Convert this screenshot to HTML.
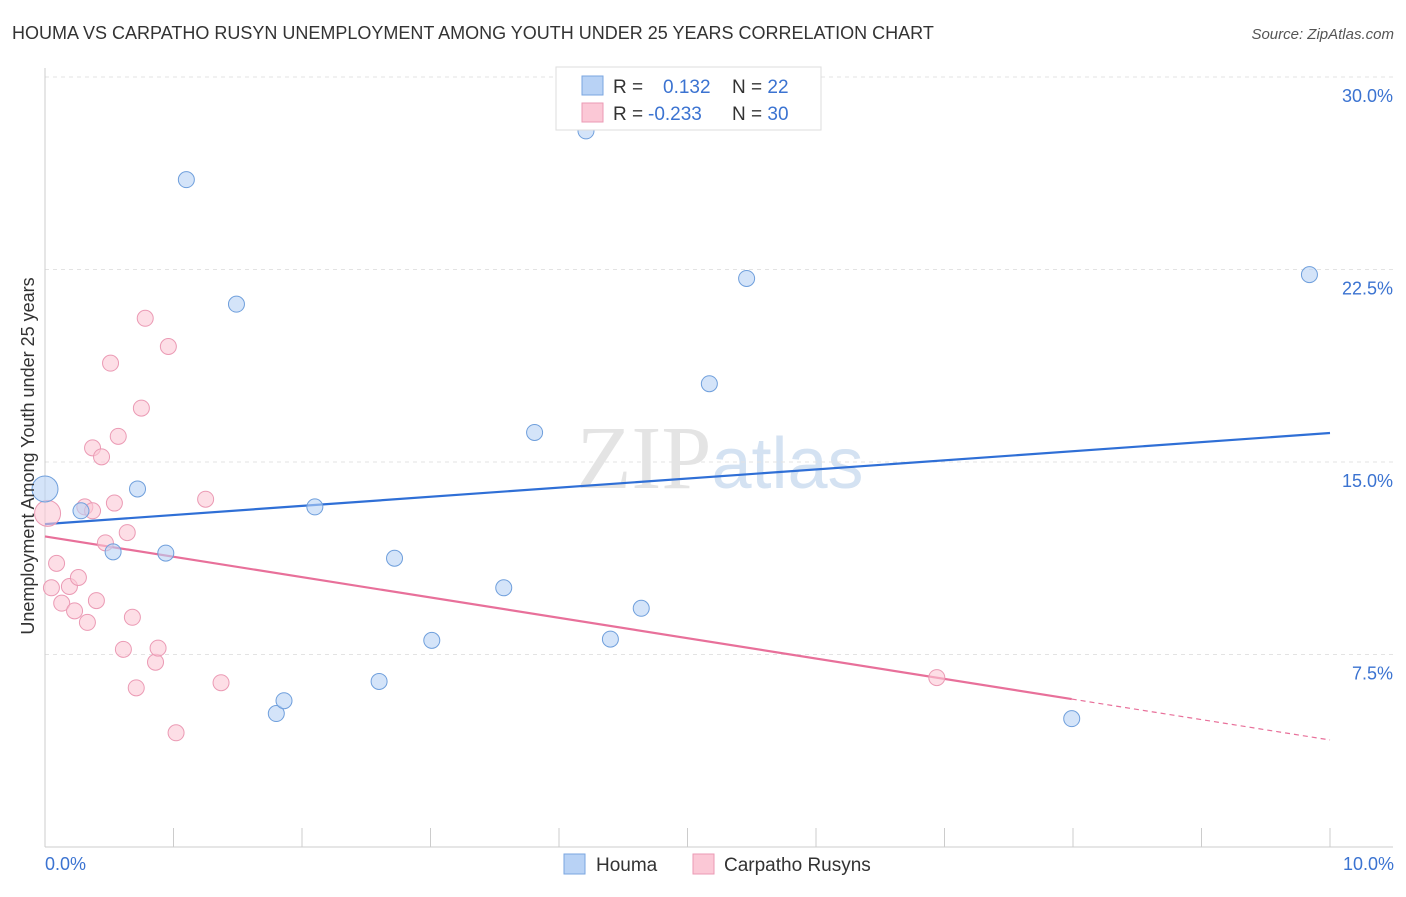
<!DOCTYPE html>
<html><head><meta charset="utf-8"><style>
body{margin:0;background:#fff;font-family:"Liberation Sans",sans-serif;}
</style></head><body>
<svg id="chart" width="1406" height="892" xmlns="http://www.w3.org/2000/svg" font-family="Liberation Sans, sans-serif">
<text x="12" y="39" font-size="18" fill="#333">HOUMA VS CARPATHO RUSYN UNEMPLOYMENT AMONG YOUTH UNDER 25 YEARS CORRELATION CHART</text>
<text x="1394" y="39" font-size="15" fill="#555" text-anchor="end" font-style="italic">Source: ZipAtlas.com</text>
<text x="720" y="488" font-size="90" text-anchor="middle" fill="#e4e4e4" font-family="Liberation Serif, serif">ZIP<tspan fill="#d4e2f2" font-family="Liberation Sans, sans-serif" font-size="72">atlas</tspan></text>
<g id="grid"></g>
<g id="axes"></g>
<g id="lines"></g>
<g id="points"></g>
<text transform="translate(34,456) rotate(-90)" font-size="18" fill="#333" text-anchor="middle">Unemployment Among Youth under 25 years</text>
<text x="45" y="870" font-size="18" fill="#3b73d1">0.0%</text>
<text x="1394" y="870" font-size="18" fill="#3b73d1" text-anchor="end">10.0%</text>
<g>
<rect x="556" y="67" width="265" height="63" fill="#fff" stroke="#ddd"/>
<rect x="582" y="76" width="21" height="19" fill="#b8d2f5" stroke="#7aa6e0"/>
<rect x="582" y="103" width="21" height="19" fill="#fbc8d6" stroke="#eb9ab4"/>
<text x="613" y="93" font-size="19" fill="#333">R = <tspan fill="#3b73d1" x="663">0.132</tspan><tspan x="732">N = </tspan><tspan fill="#3b73d1">22</tspan></text>
<text x="613" y="120" font-size="19" fill="#333">R = <tspan fill="#3b73d1" x="648">-0.233</tspan><tspan x="732">N = </tspan><tspan fill="#3b73d1">30</tspan></text>
</g>
<g>
<rect x="564" y="854" width="21" height="20" fill="#b8d2f5" stroke="#7aa6e0"/>
<text x="596" y="871" font-size="19" fill="#333">Houma</text>
<rect x="693" y="854" width="21" height="20" fill="#fbc8d6" stroke="#eb9ab4"/>
<text x="724" y="871" font-size="19" fill="#333">Carpatho Rusyns</text>
</g>
</svg>
<script>
const yTicks=[7.5,15,22.5,30];
const xTickCount=10;
const houmaX=[0,0.28,0.53,0.72,0.94,1.10,1.49,1.80,1.86,2.10,2.60,2.72,3.01,3.57,3.81,4.21,4.40,4.64,5.17,5.46,7.99,9.84];
const houmaY=[13.95,13.1,11.5,13.95,11.45,26.0,21.15,5.2,5.7,13.25,6.45,11.25,8.05,10.1,16.15,27.9,8.1,9.3,18.05,22.15,5.0,22.3];
const rusynX=[0.02,0.05,0.09,0.13,0.19,0.23,0.26,0.31,0.33,0.37,0.37,0.40,0.44,0.47,0.51,0.54,0.57,0.61,0.64,0.68,0.71,0.75,0.78,0.86,0.88,0.96,1.02,1.25,1.37,6.94];
const rusynY=[13.0,10.1,11.05,9.5,10.15,9.2,10.5,13.25,8.75,13.1,15.55,9.6,15.2,11.85,18.85,13.4,16.0,7.7,12.25,8.95,6.2,17.1,20.6,7.2,7.75,19.5,4.45,13.55,6.4,6.6];
const houmaTrend=[12.58,16.13];
const rusynTrend=[12.1,4.17];
const rusynSolidEnd=7.99;
const NS="http://www.w3.org/2000/svg";
const xs=v=>45+v*128.5, ys=v=>847-v*25.667;
function mk(tag,attrs,parent){const e=document.createElementNS(NS,tag);for(const k in attrs)e.setAttribute(k,attrs[k]);document.getElementById(parent).appendChild(e);return e;}
yTicks.forEach(t=>{
 const l=mk('line',{x1:45,x2:1393,y1:ys(t),y2:ys(t),stroke:'#e3e3e3','stroke-dasharray':'4,4'},'grid');
 
 
 const tx=mk('text',{x:1393,y:ys(t)+25,'font-size':18,fill:'#3b73d1','text-anchor':'end'},'grid');
 tx.textContent=t.toFixed(1)+'%';
 
 
});
const ax=mk('line',{x1:45,x2:1393,y1:847,y2:847,stroke:'#ccc'},'axes');


const ay=mk('line',{x1:45,x2:45,y1:68,y2:847,stroke:'#ccc'},'axes');


for(let i=0;i<=xTickCount;i++){
 const t=mk('line',{x1:xs(i),x2:xs(i),y1:828,y2:847,stroke:'#ccc'},'axes');
 
 
}
const hl=mk('line',{x1:xs(0),y1:ys(houmaTrend[0]),x2:xs(10),y2:ys(houmaTrend[1]),stroke:'#2f6fd6','stroke-width':2.2},'lines');


const rAt=x=>rusynTrend[0]+(rusynTrend[1]-rusynTrend[0])*x/10;
const rl=mk('line',{x1:xs(0),y1:ys(rusynTrend[0]),x2:xs(rusynSolidEnd),y2:ys(rAt(rusynSolidEnd)),stroke:'#e8709a','stroke-width':2.2},'lines');


const rd=mk('line',{x1:xs(rusynSolidEnd),y1:ys(rAt(rusynSolidEnd)),x2:xs(10),y2:ys(rusynTrend[1]),stroke:'#e8709a','stroke-width':1.2,'stroke-dasharray':'5,4'},'lines');


rusynX.forEach((x,i)=>{
 const c=mk('circle',{cx:xs(x),cy:ys(rusynY[i]),r:i==0?13:8,fill:'#fbc8d6','fill-opacity':0.6,stroke:'#eb9ab4','stroke-width':1},'points');
 
 
});
houmaX.forEach((x,i)=>{
 const c=mk('circle',{cx:xs(x),cy:ys(houmaY[i]),r:i==0?13:8,fill:'#b8d2f5','fill-opacity':0.6,stroke:'#6f9fdc','stroke-width':1},'points');
 
 
});
</script>
</body></html>
